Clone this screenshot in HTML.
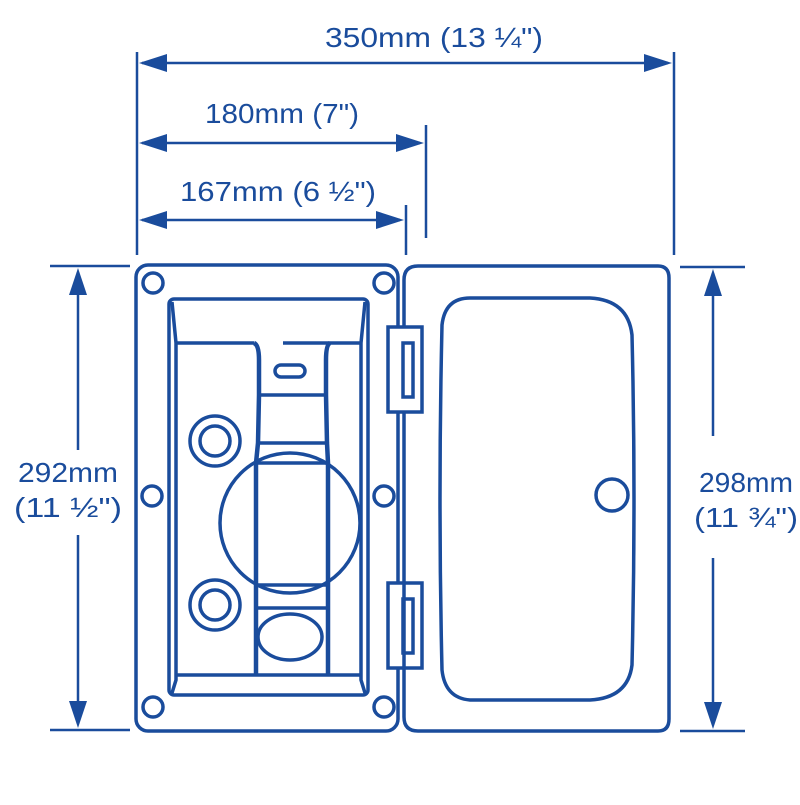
<!DOCTYPE html>
<html><head><style>html,body{margin:0;padding:0;background:#fff}</style></head><body>
<svg width="800" height="800" viewBox="0 0 800 800" xmlns="http://www.w3.org/2000/svg" font-family="Liberation Sans, sans-serif" fill="none" stroke="#1a4c9c" stroke-width="3.5">
<g stroke-width="2.5">
<line x1="137" y1="52" x2="137" y2="255"/>
<line x1="674" y1="52" x2="674" y2="255"/>
<line x1="426" y1="125" x2="426" y2="238"/>
<line x1="406" y1="205" x2="406" y2="255"/>
<line x1="142" y1="63" x2="668" y2="63"/>
<line x1="142" y1="143" x2="420" y2="143"/>
<line x1="142" y1="220" x2="400" y2="220"/>
<line x1="50" y1="266" x2="130" y2="266"/>
<line x1="50" y1="730" x2="130" y2="730"/>
<line x1="78" y1="272" x2="78" y2="450"/>
<line x1="78" y1="535" x2="78" y2="724"/>
<line x1="680" y1="267" x2="745" y2="267"/>
<line x1="680" y1="731" x2="745" y2="731"/>
<line x1="713" y1="273" x2="713" y2="436"/>
<line x1="713" y1="558" x2="713" y2="725"/>
</g>
<g fill="#1a4c9c" stroke="none">
<polygon points="139,63 167,54 167,72"/><polygon points="672,63 644,54 644,72"/>
<polygon points="139,143 167,134 167,152"/><polygon points="424,143 396,134 396,152"/>
<polygon points="139,220 167,211 167,229"/><polygon points="404,220 376,211 376,229"/>
<polygon points="78,268 69,295 87,295"/><polygon points="78,728 69,701 87,701"/>
<polygon points="713,269 704,296 722,296"/><polygon points="713,729 704,702 722,702"/>
<g font-size="28" text-anchor="middle">
<text x="434" y="47" textLength="218" lengthAdjust="spacingAndGlyphs">350mm (13 ¼")</text>
<text x="282" y="123" textLength="154" lengthAdjust="spacingAndGlyphs">180mm (7")</text>
<text x="278" y="201" textLength="196" lengthAdjust="spacingAndGlyphs">167mm (6 ½")</text>
<text x="68" y="482" textLength="100" lengthAdjust="spacingAndGlyphs">292mm</text>
<text x="68" y="517" textLength="108" lengthAdjust="spacingAndGlyphs">(11 ½")</text>
<text x="746" y="492" textLength="94" lengthAdjust="spacingAndGlyphs">298mm</text>
<text x="746" y="527" textLength="104" lengthAdjust="spacingAndGlyphs">(11 ¾")</text>
</g>
</g>
<rect x="136" y="265" width="262" height="466" rx="12"/>
<g>
<circle cx="153" cy="283" r="10"/><circle cx="384" cy="283" r="10"/>
<circle cx="152" cy="496" r="10"/><circle cx="384" cy="496" r="10"/>
<circle cx="153" cy="707" r="10"/><circle cx="384" cy="707" r="10"/>
</g>
<rect x="169" y="299" width="199" height="396" rx="5"/>
<path d="M172 302 L176 343 L176 680 L172 693"/>
<path d="M365 302 L361 343 L361 680 L365 693"/>
<line x1="176" y1="343" x2="254" y2="343"/>
<line x1="283" y1="343" x2="361" y2="343"/>
<line x1="176" y1="675" x2="361" y2="675"/>
<path d="M254 343 Q259 345 259 360 L259 395 L258 443 L256 463 L256 675" stroke-width="4.5"/>
<path d="M330 343 Q326 345 326 360 L326 395 L327 443 L328 463 L328 675" stroke-width="4.5"/>
<path d="M259 395 L326 395 M258 443 L327 443 M258 463 L328 463 M258 585 L328 585 M258 608 L326 608"/>
<circle cx="290" cy="523" r="70"/>
<rect x="275" y="365" width="30" height="12" rx="6"/>
<ellipse cx="290" cy="637" rx="32" ry="23"/>
<circle cx="215" cy="441" r="25"/><circle cx="215" cy="441" r="15"/>
<circle cx="215" cy="605" r="25"/><circle cx="215" cy="605" r="15"/>
<rect x="388" y="327" width="34" height="85" fill="#fff"/>
<rect x="403" y="343" width="10" height="54"/>
<rect x="388" y="583" width="34" height="85" fill="#fff"/>
<rect x="403" y="599" width="10" height="54"/>
<path d="M404 280 Q404 266 418 266 L658 266 Q669 266 669 278 L669 719 Q669 731 658 731 L418 731 Q404 731 404 717 L404 412 M404 327 L404 280 M404 583 L404 412 M404 668 L404 717"/>
<path d="M470 298 Q445 298 442 325 Q438 500 442 670 Q445 698 470 700 L590 700 Q628 698 632 665 Q636 500 632 335 Q628 300 590 298 Z"/>
<circle cx="612" cy="495" r="16"/>
</svg>
</body></html>
